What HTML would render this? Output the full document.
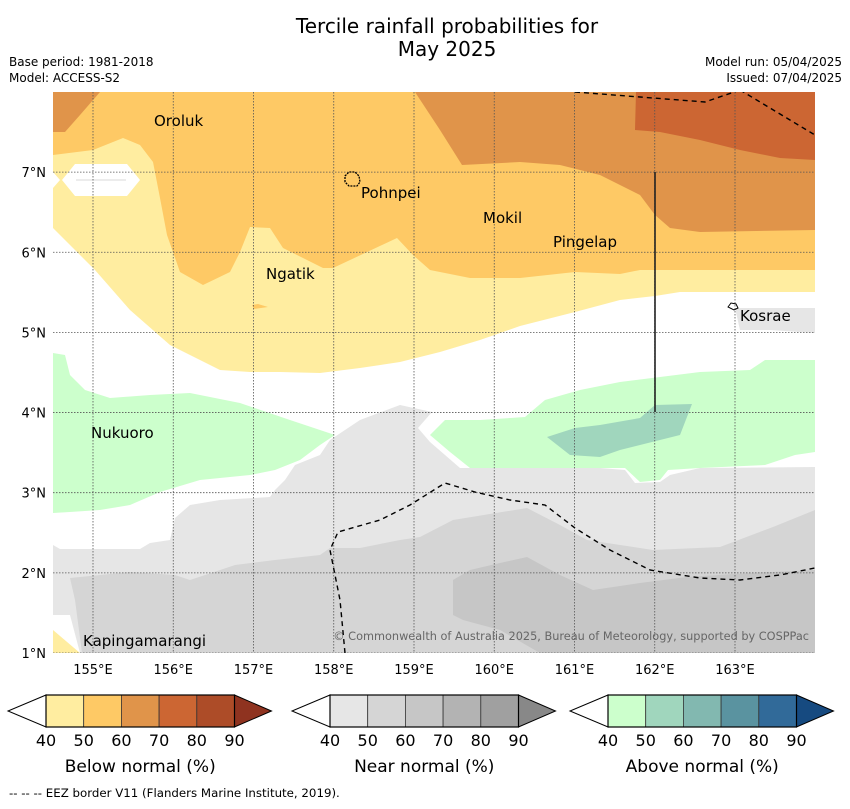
<!DOCTYPE html>
<html><head><meta charset="utf-8"><style>
body{margin:0;background:#fff;font-family:"Liberation Sans","DejaVu Sans",sans-serif;}
svg text{font-family:"DejaVu Sans","Liberation Sans",sans-serif;}
</style></head><body>
<svg id="c" width="850" height="804" viewBox="0 0 850 804" xmlns="http://www.w3.org/2000/svg">
<text x="447" y="33" font-size="20" text-anchor="middle">Tercile rainfall probabilities for</text>
<text x="447" y="56" font-size="20" text-anchor="middle">May 2025</text>
<text x="9" y="66" font-size="12">Base period: 1981-2018</text>
<text x="9" y="82" font-size="12">Model: ACCESS-S2</text>
<text x="842" y="66" font-size="12" text-anchor="end">Model run: 05/04/2025</text>
<text x="842" y="82" font-size="12" text-anchor="end">Issued: 07/04/2025</text>
<defs><clipPath id="mc"><rect x="53" y="92" width="762" height="561"/></clipPath></defs>
<g clip-path="url(#mc)">
<rect x="53" y="92" width="762" height="561" fill="#fff"/>
<polygon fill="#ffeda0" points="53,92 815,92 815,292 680,292 655,296 620,300 575,312 520,326 480,340 440,352 400,362 360,368 320,373 280,372 250,372 220,370 170,345 130,310 95,270 53,228"/>
<polygon fill="#fec965" points="53,92 815,92 815,270 640,270 620,274 575,272 520,278 470,278 430,270 413,255 397,238 333,268 323,268 283,248 270,228 250,227 240,252 230,272 203,285 180,272 167,235 160,198 153,162 140,145 123,138 93,150 53,155"/>
<polygon fill="#e0944a" points="53,92 100,92 80,115 65,132 53,132"/>
<polygon fill="#e0944a" points="415,92 815,92 815,230 700,232 670,228 655,215 640,195 600,175 560,165 520,162 462,165 440,130"/>
<polygon fill="#cc6633" points="636,92 815,92 815,160 780,158 740,150 700,140 660,132 635,130"/>
<polygon fill="#fec965" points="252,305 258,304 268,307 254,309"/>
<polygon fill="#fff" points="62,180 75,164 127,164 140,180 127,196 75,196"/>
<polygon fill="#fff" points="53,172 60,180 53,188"/>
<line x1="76" y1="180" x2="126" y2="180" stroke="#e6e6e6" stroke-width="1.5"/>
<polygon fill="#e6e6e6" points="735,308 815,308 815,333 770,330 740,330"/>
<polygon fill="#ccffcc" points="53,353 65,355 70,375 85,390 110,398 150,395 190,393 240,403 290,420 335,435 320,445 300,460 275,470 250,475 200,480 160,492 130,505 100,510 70,512 53,513"/>
<polygon fill="#e6e6e6" points="53,545 60,549 140,549 150,543 170,540 175,518 190,505 220,500 270,497 275,490 285,480 295,465 320,455 330,440 360,420 400,405 432,412 418,428 430,442 445,455 460,468 600,468 625,470 635,483 660,482 670,475 700,468 815,467 815,653 53,653"/>
<polygon fill="#fff" points="53,615 70,615 80,653 53,653"/>
<polygon fill="#ffeda0" points="53,630 80,653 53,653"/>
<polygon fill="#d5d5d5" points="70,578 130,572 175,575 190,580 205,575 235,565 275,560 320,555 330,548 360,548 400,540 420,537 453,520 527,508 560,525 587,540 653,550 720,547 773,527 815,510 815,653 82,653 75,600"/>
<polygon fill="#c6c6c6" points="453,580 470,570 500,563 527,557 560,575 593,590 640,583 687,577 750,573 815,570 815,653 540,653 500,630 463,620 453,615"/>
<polygon fill="#ccffcc" points="430,435 445,420 480,420 525,417 545,400 580,390 620,382 700,372 750,370 765,360 815,360 815,452 795,455 765,465 700,468 668,470 660,480 640,482 625,468 470,468 450,452"/>
<polygon fill="#a0d6bd" points="547,437 575,428 600,425 640,418 655,405 692,404 680,435 660,440 620,450 600,457 570,455"/>
<g stroke="#555" stroke-width="0.8" stroke-dasharray="1.5,1.5" id="grid"></g>
<line x1="655" y1="172" x2="655" y2="412" stroke="#222" stroke-width="1.6"/>
<g fill="none" stroke="#000" stroke-width="1.4" stroke-dasharray="5,4">
<polyline points="575,92 640,97 705,102 740,90"/>
<polyline points="740,90 815,135"/>
<polyline points="345,653 340,600 330,550 338,532 380,520 410,505 445,483 475,492 510,500 545,505 575,528 610,550 650,570 700,578 740,580 780,575 815,568"/>
</g>
<path d="M345,176 l4,-4 l6,0 l4,4 l1,6 l-3,4 l-8,0 l-4,-4z" fill="none" stroke="#000" stroke-width="1.3" stroke-dasharray="2,1"/>
<path d="M728,307 l3,-4 l5,1 l2,4 l-4,2z" fill="none" stroke="#000" stroke-width="1"/>
<g font-size="15">
<text x="154" y="126">Oroluk</text>
<text x="361" y="198">Pohnpei</text>
<text x="483" y="223">Mokil</text>
<text x="553" y="247">Pingelap</text>
<text x="266" y="279">Ngatik</text>
<text x="740" y="321">Kosrae</text>
<text x="91" y="438">Nukuoro</text>
<text x="83" y="646">Kapingamarangi</text>
</g>
<text x="809" y="640" font-size="11.3" fill="#666" text-anchor="end">© Commonwealth of Australia 2025, Bureau of Meteorology, supported by COSPPac</text>
</g>
<g id="axes" font-size="13"></g>
<g id="cbars"></g>
<text x="9" y="797" font-size="11.8">--  --  -- EEZ border V11 (Flanders Marine Institute, 2019).</text>
</svg>
<script>
const lonTicks=[155,156,157,158,159,160,161,162,163];
const latTicks=[1,2,3,4,5,6,7];
const cbTicks=[40,50,60,70,80,90];
const belowColors=["#ffeda0","#fec965","#e0944a","#cc6633","#ad4c28","#8f3320"];
const nearColors=["#e6e6e6","#d5d5d5","#c6c6c6","#b3b3b3","#a0a0a0","#888888"];
const aboveColors=["#ccffcc","#a0d6bd","#82b8b0","#5a93a0","#316a99","#164a80"];
const cbTitles=["Below normal (%)","Near normal (%)","Above normal (%)"];
const NS="http://www.w3.org/2000/svg";
const X=lon=>93+(lon-155)*80.25;
const Y=lat=>653-(lat-1)*80.15;
function mk(t,a,p){const e=document.createElementNS(NS,t);for(const k in a)e.setAttribute(k,a[k]);p.appendChild(e);return e;}
const grid=document.getElementById('grid'),axes=document.getElementById('axes');
lonTicks.forEach(l=>{
 const g=mk('line',{x1:X(l),x2:X(l),y1:92,y2:653},grid);
 
 
 const t=mk('text',{x:X(l),y:674,'text-anchor':'middle'},axes);t.textContent=l+'°E';
 
 
});
latTicks.forEach(l=>{
 const g=mk('line',{x1:53,x2:815,y1:Y(l),y2:Y(l)},grid);
 
 
 const t=mk('text',{x:46,y:Y(l)+5,'text-anchor':'end'},axes);t.textContent=l+'°N';
 
 
});
const cb=document.getElementById('cbars');
const bars=[[46,belowColors],[330,nearColors],[608,aboveColors]];
bars.forEach((b,i)=>{
 const x0=b[0],cols=b[1],w=37.7,y0=695,h=32,n=5;
 const l=mk('polygon',{points:`${x0},${y0} ${x0-38},${y0+h/2} ${x0},${y0+h}`,fill:'#fff',stroke:'#000','stroke-width':1},cb);
 
 
 for(let k=0;k<n;k++){
  const r=mk('rect',{x:x0+k*w,y:y0,width:w,height:h,fill:cols[k],stroke:'#333','stroke-width':0.8},cb);
  
  
 }
 const xe=x0+n*w;
 const rt=mk('polygon',{points:`${xe},${y0} ${xe+37},${y0+h/2} ${xe},${y0+h}`,fill:cols[5],stroke:'#000','stroke-width':1},cb);
 
 
 mk('rect',{x:x0,y:y0,width:n*w,height:h,fill:'none',stroke:'#000','stroke-width':1.2},cb);
 cbTicks.forEach((v,k)=>{
  const t=mk('text',{x:x0+k*w,y:746,'font-size':16,'text-anchor':'middle'},cb);t.textContent=v;
  
  
 });
 const tt=mk('text',{x:x0+n*w/2,y:772,'font-size':17,'text-anchor':'middle'},cb);tt.textContent=cbTitles[i];
 
 
});
</script>
</body></html>
